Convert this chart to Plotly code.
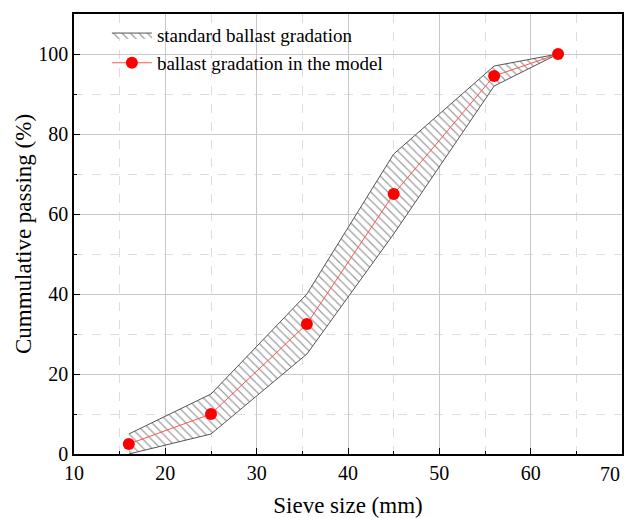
import plotly.graph_objects as go

sieve = [16, 25, 35.5, 45, 56, 63]
upper = [5, 15, 40, 75, 97, 100]
lower = [0, 5, 25, 55, 92, 100]
model = [2.5, 10, 32.5, 65, 94.5, 100]
x_ticks = [10, 20, 30, 40, 50, 60, 70]
y_ticks = [0, 20, 40, 60, 80, 100]

band_x = sieve + sieve[::-1]
band_y = upper + lower[::-1]

fig = go.Figure()
fig.add_trace(go.Scatter(
    x=band_x, y=band_y, mode="lines", fill="toself",
    line=dict(color="#555555", width=1),
    fillcolor="rgba(0,0,0,0)",
    fillpattern=dict(shape="\\", size=6, solidity=0.2, fgcolor="#3a3a3a", bgcolor="white"),
    name="standard ballast gradation",
))
fig.add_trace(go.Scatter(
    x=sieve, y=model, mode="lines+markers",
    line=dict(color="#ff5555", width=1),
    marker=dict(color="#ff0000", size=12),
    name="ballast gradation in the model",
))

font_family = "Liberation Serif, Times New Roman, serif"
fig.update_layout(
    width=634, height=518,
    margin=dict(l=74, r=12, t=14, b=64),
    plot_bgcolor="white", paper_bgcolor="white",
    font=dict(family=font_family, size=20, color="black"),
    showlegend=True,
    legend=dict(x=0.06, y=0.995, xanchor="left", yanchor="top",
                bgcolor="rgba(255,255,255,0)", font=dict(size=19),
                tracegroupgap=0, itemwidth=40),
)
fig.update_xaxes(
    range=[10, 70], tickvals=x_ticks, ticktext=[str(v) if v != 70 else "" for v in x_ticks],
    showline=True, linecolor="black", linewidth=1.5, mirror=True,
    ticks="inside", ticklen=6, tickcolor="black", automargin=False,
    showgrid=True, gridcolor="#c8c8c8", gridwidth=1,
    minor=dict(dtick=5, showgrid=True, gridcolor="#dddddd", griddash="dash", ticks="inside", ticklen=3, tickcolor="black"),
    title=dict(text="Sieve size (mm)", font=dict(size=23), standoff=14),
    zeroline=False, tickfont=dict(size=20),
)
fig.add_annotation(x=x_ticks[-1], y=0, xref="x", yref="paper", text=str(x_ticks[-1]),
                   showarrow=False, xanchor="right", yanchor="top", yshift=-7,
                   font=dict(size=20, family=font_family, color="black"))
fig.update_yaxes(
    range=[0, 110], tickvals=y_ticks, showline=True, linecolor="black", linewidth=1.5, mirror=True,
    ticks="inside", ticklen=6, tickcolor="black", automargin=False,
    showgrid=True, gridcolor="#c8c8c8", gridwidth=1,
    minor=dict(dtick=10, showgrid=True, gridcolor="#dddddd", griddash="dash", ticks="inside", ticklen=3, tickcolor="black"),
    title=dict(text="Cummulative passing (%)", font=dict(size=23), standoff=0),
    zeroline=False, tickfont=dict(size=20),
)
fig.write_html("out.html", config={"displayModeBar": False},
               post_script="document.body.style.margin='0';document.body.style.overflow='hidden';")
